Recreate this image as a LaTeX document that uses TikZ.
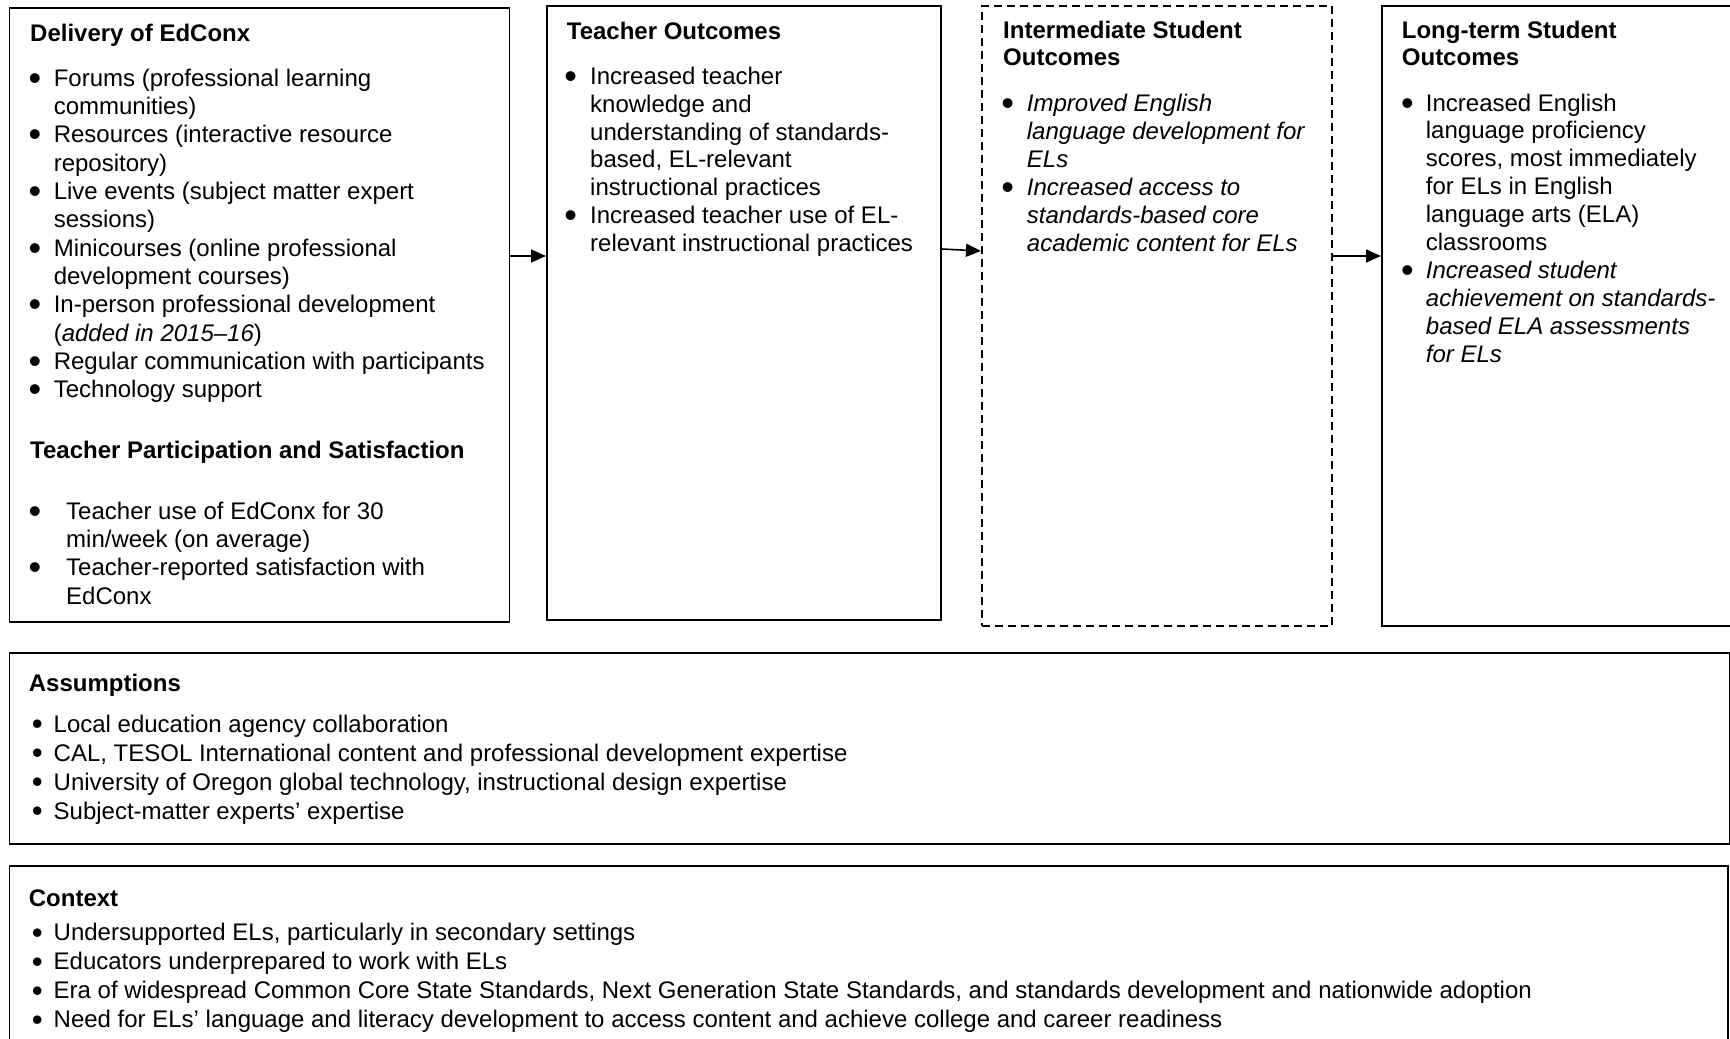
\documentclass[tikz,border=0pt]{standalone}
\usepackage{fontspec}
\setmainfont{Liberation Sans}
\usepackage{graphicx}
\usetikzlibrary{arrows.meta}

% list helpers: bullet offset, hanging indent, text
\newcommand\bul{\smash{\raisebox{-4pt}{\scalebox{1.5}{\textbullet}}}}
\newcommand\sbul{\smash{\raisebox{-2.6pt}{\scalebox{1.3}{\textbullet}}}}
\newcommand\bitem[3]{\par\noindent\hangindent=#2\hangafter=1\makebox[#2][l]{\hspace*{#1}\bul}#3}
\newcommand\sitem[3]{\par\noindent\hangindent=#2\hangafter=1\makebox[#2][l]{\hspace*{#1}\sbul}#3}
\newcommand\fs[1]{\fontsize{24}{#1}\selectfont}

\tikzset{
  box/.style={draw=black, line width=1.8pt, inner sep=0pt, anchor=north west},
  dbox/.style={box, dash pattern=on 8pt off 5pt},
  txt/.style={anchor=base west, inner sep=0pt},
  arr/.style={line width=1.6pt, -{Triangle[length=15pt,width=13pt]}},
}

\begin{document}
\begin{tikzpicture}[x=1pt,y=-1pt]
\useasboundingbox (0,0) rectangle (1730,1039);
\clip (0,0) rectangle (1730,1039);

% frames
\node[box, minimum width=500pt, minimum height=614pt] (b1) at (8.5,7) {};
\node[box, minimum width=394pt, minimum height=614pt] (b2) at (546,5) {};
\node[dbox, minimum width=350pt, minimum height=620pt] (b3) at (981,5) {};
\node[box, minimum width=400pt, minimum height=620pt] (b4) at (1381,5) {};
\node[box, minimum width=1720pt, minimum height=191pt] (ba) at (8.5,652) {};
\node[box, minimum width=1718.5pt, minimum height=200pt] (bc) at (8.5,865) {};

% Delivery of EdConx
\node[txt] (t1) at (30,41) {\fs{28}\bfseries Delivery of EdConx};
\node[txt] (l1) at (30,86) {\parbox[t]{470pt}{\fs{28.35}%
  \bitem{-1.5pt}{23.6pt}{Forums (professional learning\\communities)}
  \bitem{-1.5pt}{23.6pt}{Resources (interactive resource\\repository)}
  \bitem{-1.5pt}{23.6pt}{Live events (subject matter expert\\sessions)}
  \bitem{-1.5pt}{23.6pt}{Minicourses (online professional\\development courses)}
  \bitem{-1.5pt}{23.6pt}{In-person professional development\\(\textit{added in 2015–16})}
  \bitem{-1.5pt}{23.6pt}{Regular communication with participants}
  \bitem{-1.5pt}{23.6pt}{Technology support}}};
\node[txt] (t1b) at (30,458.5) {\fs{28}\bfseries Teacher Participation and Satisfaction};
\node[txt] (l1b) at (30,519) {\parbox[t]{470pt}{\fs{28.35}%
  \bitem{-1.5pt}{36pt}{Teacher use of EdConx for 30\\min/week (on average)}
  \bitem{-1.5pt}{36pt}{Teacher-reported satisfaction with\\EdConx}}};

% Teacher Outcomes
\node[txt] (t2) at (566.7,39.5) {\fs{28}\bfseries Teacher Outcomes};
\node[txt] (l2) at (566.7,84.5) {\parbox[t]{370pt}{\fs{27.8}%
  \bitem{-2.5pt}{23.3pt}{Increased teacher\\knowledge and\\understanding of standards-\\based, EL-relevant\\instructional practices}
  \bitem{-2.5pt}{23.3pt}{Increased teacher use of EL-\\relevant instructional practices}}};

% Intermediate Student Outcomes
\node[txt] (t3) at (1003,38.3) {\parbox[t]{320pt}{\fs{27.6}\bfseries Intermediate Student\\Outcomes}};
\node[txt] (l3) at (1003,111) {\parbox[t]{320pt}{\fs{28}\itshape
  \bitem{-2pt}{23.7pt}{Improved English\\language development for\\ELs}
  \bitem{-2pt}{23.7pt}{Increased access to\\standards-based core\\academic content for ELs}}};

% Long-term Student Outcomes
\node[txt] (t4) at (1401.7,38.3) {\parbox[t]{320pt}{\fs{27.6}\bfseries Long-term Student\\Outcomes}};
\node[txt] (l4) at (1401.7,111) {\parbox[t]{320pt}{\fs{27.95}%
  \bitem{-0.7pt}{24pt}{Increased English\\language proficiency\\scores, most immediately\\for ELs in English\\language arts (ELA)\\classrooms}
  \bitem{-0.7pt}{24pt}{\itshape Increased student\\achievement on standards-\\based ELA assessments\\for ELs}}};

% Assumptions
\node[txt] (ta) at (28.7,691) {\fs{28}\bfseries Assumptions};
\node[txt] (la) at (28.7,732) {\parbox[t]{1680pt}{\fs{29}%
  \sitem{3pt}{24.8pt}{Local education agency collaboration}
  \sitem{3pt}{24.8pt}{CAL, TESOL International content and professional development expertise}
  \sitem{3pt}{24.8pt}{University of Oregon global technology, instructional design expertise}
  \sitem{3pt}{24.8pt}{Subject-matter experts’ expertise}}};

% Context
\node[txt] (tc) at (28.7,906) {\fs{28}\bfseries Context};
\node[txt] (lc) at (28.7,940.5) {\parbox[t]{1680pt}{\fs{29}%
  \sitem{3pt}{24.8pt}{Undersupported ELs, particularly in secondary settings}
  \sitem{3pt}{24.8pt}{Educators underprepared to work with ELs}
  \sitem{3pt}{24.8pt}{Era of widespread Common Core State Standards, Next Generation State Standards, and standards development and nationwide adoption}
  \sitem{3pt}{24.8pt}{Need for ELs’ language and literacy development to access content and achieve college and career readiness}}};

% connectors
\coordinate (y1) at (0,256);
\coordinate (y2a) at (0,249);
\coordinate (y2b) at (0,251);
\draw[arr] (b1.east |- y1) -- (b2.west |- y1);
\draw[arr] (b2.east |- y2a) -- (b3.west |- y2b);
\draw[arr] (b3.east |- y1) -- (b4.west |- y1);
\end{tikzpicture}
\end{document}
